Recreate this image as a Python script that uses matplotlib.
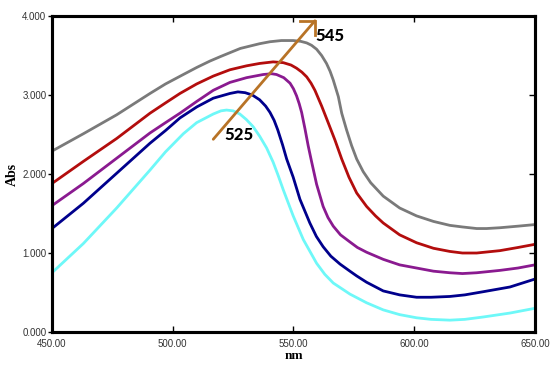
import matplotlib
matplotlib.use("Agg")
import matplotlib.pyplot as plt

# ---- data ----
gray_x = [450, 463, 476.8, 490.6, 497, 504.4, 510, 515.4, 520, 524, 528, 532, 536, 540.3, 545, 549.9, 553, 555.5, 557.5, 559.6, 561.7, 563.7, 565.2, 566.5, 568.6, 570, 572, 574.1, 576.2, 578.9, 582, 587.2, 594, 601, 608, 614.8, 620, 625.9, 630, 635.5, 643, 650]
gray_y = [2.29, 2.51, 2.75, 3.02, 3.14, 3.26, 3.35, 3.43, 3.49, 3.54, 3.59, 3.62, 3.65, 3.675, 3.69, 3.69, 3.68, 3.66, 3.63, 3.58, 3.50, 3.40, 3.30, 3.19, 2.98, 2.77, 2.56, 2.36, 2.19, 2.03, 1.89, 1.72, 1.57, 1.47, 1.40, 1.35, 1.33, 1.31, 1.31, 1.32, 1.34, 1.36]

red_x = [450, 463, 476.8, 490.6, 497, 503, 509.9, 516.8, 523.7, 530.6, 536, 541.6, 545.8, 549, 551.3, 553.5, 555.5, 557.3, 558.9, 561.7, 564.4, 567.2, 570, 573, 576.2, 580.3, 584, 587.2, 594, 601, 608, 614.8, 620, 625.9, 635.5, 643, 650]
red_y = [1.88, 2.16, 2.45, 2.77, 2.90, 3.02, 3.14, 3.24, 3.32, 3.37, 3.40, 3.42, 3.41, 3.38, 3.34, 3.29, 3.23, 3.15, 3.06, 2.86, 2.65, 2.43, 2.19, 1.96, 1.76, 1.59, 1.47, 1.38, 1.23, 1.13, 1.06, 1.02, 1.00, 1.00, 1.03, 1.07, 1.11]

purple_x = [450, 463, 476.8, 490.6, 497, 503, 510, 516.8, 523.7, 530.6, 537.5, 541, 543, 546, 548.6, 550, 551.3, 552.4, 553.4, 554.8, 556.1, 557.5, 559.6, 562.3, 564.3, 566.5, 569.5, 573.4, 576.5, 580.3, 587.2, 594, 601, 608, 614.8, 620, 625.9, 635.5, 643, 650]
purple_y = [1.60, 1.88, 2.20, 2.52, 2.65, 2.77, 2.92, 3.06, 3.16, 3.22, 3.26, 3.27, 3.26, 3.22, 3.15, 3.08, 2.99, 2.89, 2.78, 2.57, 2.36, 2.16, 1.87, 1.59, 1.45, 1.34, 1.23, 1.14, 1.07, 1.01, 0.92, 0.85, 0.81, 0.77, 0.75, 0.74, 0.75, 0.78, 0.81, 0.85]

navy_x = [450, 463, 476.8, 490.6, 497, 503, 510, 516.8, 523.7, 527, 530, 533, 536, 538.5, 540.3, 542, 543.5, 545.5, 547.2, 549.9, 552.7, 556.8, 559.5, 562.3, 565.5, 569.3, 573.4, 576.2, 580.3, 587.2, 594, 601, 607, 614.8, 621, 628.6, 639.7, 650]
navy_y = [1.31, 1.63, 2.01, 2.39, 2.55, 2.71, 2.85, 2.96, 3.02, 3.04, 3.03, 3.00, 2.94, 2.86, 2.78, 2.68, 2.56, 2.37, 2.19, 1.96, 1.68, 1.38, 1.21, 1.08, 0.96, 0.86, 0.77, 0.71, 0.63, 0.52, 0.47, 0.44, 0.44, 0.45, 0.47, 0.51, 0.57, 0.67]

cyan_x = [450, 463, 476.8, 490.6, 497, 504.4, 509.9, 516.8, 520, 522.3, 525, 527.8, 530.5, 533.3, 536, 538.9, 541.6, 543.7, 545.8, 549.9, 554.1, 559.6, 563, 566.5, 573.4, 580.3, 587.2, 594, 601, 607, 614.8, 621, 628.6, 639.7, 650]
cyan_y = [0.75, 1.12, 1.57, 2.05, 2.28, 2.51, 2.65, 2.76, 2.80, 2.81, 2.80, 2.76, 2.69, 2.60, 2.48, 2.33, 2.15, 1.98, 1.80, 1.47, 1.17, 0.87, 0.73, 0.62, 0.48, 0.37, 0.28, 0.22, 0.18, 0.16, 0.15, 0.16, 0.19, 0.24, 0.30]

x_ticks = [450, 500, 550, 600, 650]
x_tick_labels = ["450.00", "500.00", "550.00", "600.00", "650.00"]
y_ticks = [0, 1, 2, 3, 4]
y_tick_labels = ["0.000", "1.000", "2.000", "3.000", "4.000"]

arrow_start = (516.8, 2.44)
arrow_tip = (558.9, 3.94)
label_525 = (527.6, 2.49)
label_545 = (565.1, 3.75)

# ---- figure ----
fig = plt.figure(figsize=(5.5, 3.65), dpi=100)
ax = fig.add_axes([0.0945, 0.0904, 0.878, 0.8656])

series = [
    (gray_x, gray_y, "#7a7a7a"),
    (red_x, red_y, "#b30d0d"),
    (purple_x, purple_y, "#8a1a90"),
    (navy_x, navy_y, "#00008c"),
    (cyan_x, cyan_y, "#6ef8f8"),
]
for xs, ys, c in series:
    ax.plot(xs, ys, color=c, lw=2.0, solid_capstyle="round", solid_joinstyle="round", zorder=3)

ax.set_xlim(450, 650)
ax.set_ylim(0, 4)

ax.set_xticks(x_ticks)
ax.set_xticklabels(x_tick_labels)
ax.set_yticks(y_ticks)
ax.set_yticklabels(y_tick_labels)

for lab in ax.get_xticklabels() + ax.get_yticklabels():
    lab.set_fontfamily("Liberation Sans")
    lab.set_fontsize(7)
    lab.set_color("#333333")

ax.tick_params(axis="x", direction="in", top=True, length=4, width=1, pad=5)
ax.tick_params(axis="y", direction="out", length=3, width=1, pad=1)

axr = ax.twinx()
axr.set_ylim(0, 4)
axr.set_yticks(y_ticks)
axr.tick_params(axis="y", direction="in", length=4, width=1, labelright=False)

for a in (ax, axr):
    for s in a.spines.values():
        s.set_linewidth(2.2)
        s.set_color("black")

ax.set_xlabel("nm", family="Liberation Serif", fontweight="bold", fontsize=9.5)
ax.set_ylabel("Abs", family="Liberation Serif", fontweight="bold", fontsize=10)
ax.xaxis.set_label_coords(0.5, -0.058)
ax.yaxis.set_label_coords(-0.068, 0.5)

# arrow
brown = "#b87326"
ax.plot([arrow_start[0], arrow_tip[0]], [arrow_start[1], arrow_tip[1]], color=brown, lw=2.0, zorder=4, solid_capstyle="round")
ax.plot([arrow_tip[0] - 6.0, arrow_tip[0], arrow_tip[0]], [arrow_tip[1], arrow_tip[1], arrow_tip[1] - 0.18],
        color=brown, lw=2.0, zorder=4, solid_joinstyle="miter")

lab_fam = ["Lato", "DejaVu Sans"]
ax.text(label_525[0], label_525[1], "525", fontsize=12, fontweight="black",
        family=lab_fam, ha="center", va="center", zorder=5)
ax.text(label_545[0], label_545[1], "545", fontsize=12, fontweight="black",
        family=lab_fam, ha="center", va="center", zorder=5)

fig.savefig("out.png", dpi=100)
